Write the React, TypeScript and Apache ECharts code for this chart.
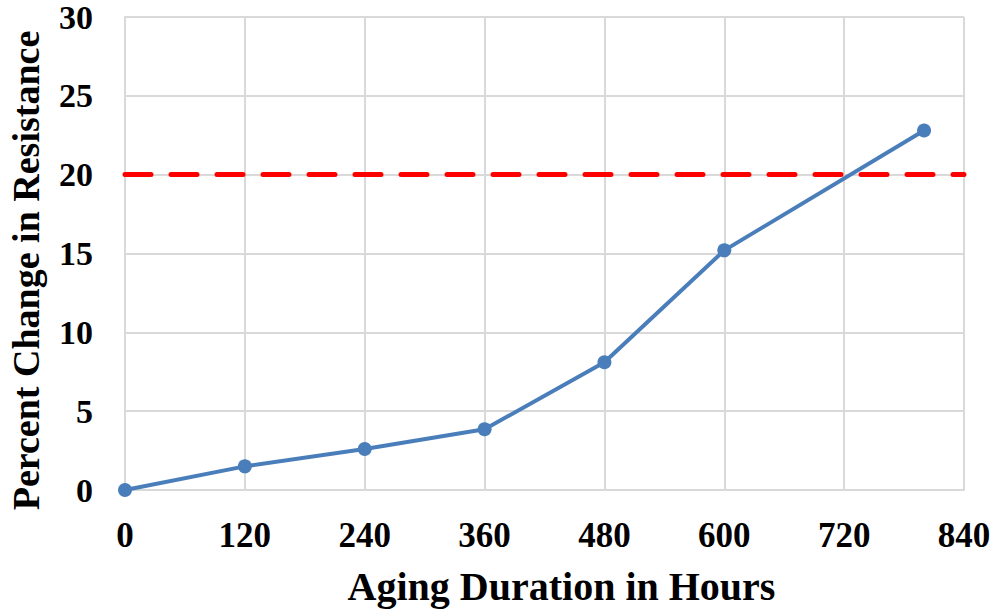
import React, { useEffect, useRef } from "react";
import * as echarts from "echarts";

const hours = [0, 120, 240, 360, 480, 600, 800];
const percentChange = [0, 1.5, 2.6, 3.85, 8.1, 15.2, 22.8];
const threshold = 20;
const xTitle = "Aging Duration in Hours";
const yTitle = "Percent Change in Resistance";

export default function App() {
  const ref = useRef<HTMLDivElement>(null);
  useEffect(() => {
    const chart = echarts.init(ref.current!, null, { renderer: "svg" });
    const font = "'Liberation Serif', 'Times New Roman', serif";
    chart.setOption({
      animation: false,
      backgroundColor: "#ffffff",
      grid: { left: 125, right: 31, top: 17, bottom: 123, outerBoundsMode: "none", containLabel: false },
      xAxis: {
        type: "value",
        min: 0,
        max: 840,
        interval: 120,
        name: xTitle,
        nameLocation: "middle",
        nameGap: 76,
        nameTextStyle: { fontFamily: font, fontWeight: "bold", fontSize: 40, color: "#000", padding: [0, 0, 0, 34] },
        axisLine: { show: true, lineStyle: { color: "#d9d9d9", width: 2 } },
        axisTick: { show: false },
        axisLabel: { fontFamily: font, fontWeight: "bold", fontSize: 35, color: "#000", margin: 28 },
        splitLine: { show: true, lineStyle: { color: "#d9d9d9", width: 2 } },
      },
      yAxis: {
        type: "value",
        min: 0,
        max: 30,
        interval: 5,
        name: yTitle,
        nameLocation: "middle",
        nameGap: 80,
        nameTextStyle: { fontFamily: font, fontWeight: "bold", fontSize: 38, color: "#000", padding: [0, 34, 0, 0] },
        axisLine: { show: true, lineStyle: { color: "#d9d9d9", width: 2 } },
        axisTick: { show: false },
        axisLabel: { fontFamily: font, fontWeight: "bold", fontSize: 34, color: "#000", margin: 32 },
        splitLine: { show: true, lineStyle: { color: "#d9d9d9", width: 2 } },
      },
      series: [
        {
          type: "line",
          data: hours.map((h, i) => [h, percentChange[i]]),
          symbol: "circle",
          symbolSize: 14,
          lineStyle: { color: "#4a7ebb", width: 4 },
          itemStyle: { color: "#4a7ebb" },
          markLine: {
            silent: true,
            symbol: ["none", "none"],
            label: { show: false },
            lineStyle: { color: "#ff0000", width: 5, type: [26, 20], cap: "round" },
            data: [{ yAxis: threshold }],
          },
          z: 3,
        },
      ],
    });
    return () => chart.dispose();
  }, []);
  return <div ref={ref} style={{ width: 995, height: 613, position: "absolute", left: 0, top: 0 }} />;
}
